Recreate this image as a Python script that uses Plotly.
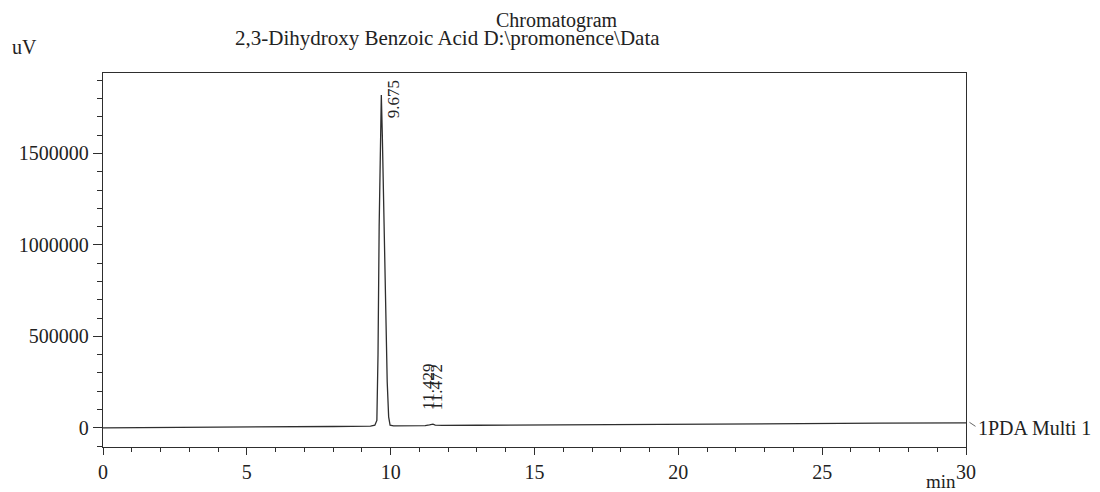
import plotly.graph_objects as go

# Chromatogram trace (time in min, signal in uV)
time_min = [0.0, 2.0, 4.0, 6.0, 8.0, 9.3, 9.45, 9.52, 9.56, 9.60, 9.64, 9.675,
            9.71, 9.76, 9.82, 9.88, 9.93, 9.98, 10.1, 10.6, 11.2, 11.35, 11.43,
            11.47, 11.55, 11.8, 13.0, 15.0, 18.0, 21.0, 24.0, 27.0, 30.0]
signal_uv = [0, 1000, 2000, 4000, 7000, 9000, 14000, 40000, 400000, 1100000, 1650000, 1820000,
             1600000, 1150000, 650000, 250000, 60000, 14000, 11000, 11000, 12000, 16000, 21000,
             20000, 15000, 13000, 14000, 16000, 19000, 21000, 23000, 25000, 27000]

peak_times = [9.675, 11.429, 11.472]
peak_heights = [1820000, 21000, 20000]
peak_labels = ["9.675", "11.429", "11.472"]

y_ticks = [0, 500000, 1000000, 1500000]
x_ticks = [0, 5, 10, 15, 20, 25, 30]

FONT = "Liberation Serif"
INK = "#222222"
LINE = "#2e2e2e"

fig = go.Figure()
fig.add_trace(go.Scatter(x=time_min, y=signal_uv, mode="lines",
                         line=dict(color=LINE, width=1.3),
                         showlegend=False, hoverinfo="x+y"))

annotations = []
xshifts = [13, -3, 3]
yshifts = [-4, 12, 12]
yanchors = ["middle", "bottom", "bottom"]
for t, h, lab, xs, ys, ya in zip(peak_times, peak_heights, peak_labels, xshifts, yshifts, yanchors):
    annotations.append(dict(x=t, y=h, xref="x", yref="y", text=lab, showarrow=False,
                            textangle=-90, xanchor="center", yanchor=ya,
                            xshift=xs, yshift=ys,
                            font=dict(family=FONT, size=17, color=INK)))

annotations += [
    dict(x=0.526, y=1.141, xref="paper", yref="paper", text="Chromatogram", showarrow=False,
         xanchor="center", yanchor="middle", font=dict(family=FONT, size=20, color=INK)),
    dict(x=0.399, y=1.094, xref="paper", yref="paper",
         text="2,3-Dihydroxy Benzoic Acid D:\\promonence\\Data", showarrow=False,
         xanchor="center", yanchor="middle", font=dict(family=FONT, size=21, color=INK)),
    dict(x=-0.108, y=1.0695, xref="paper", yref="paper", text="uV", showarrow=False,
         xanchor="left", yanchor="middle", font=dict(family=FONT, size=20, color=INK)),
    dict(x=0.971, y=-0.093, xref="paper", yref="paper", text="min", showarrow=False,
         xanchor="center", yanchor="middle", font=dict(family=FONT, size=19, color=INK)),
    dict(x=1.0, y=0, xref="paper", yref="y", text="1PDA Multi 1", showarrow=False,
         xanchor="left", yanchor="middle", xshift=10, font=dict(family=FONT, size=20, color=INK)),
]

fig.update_layout(
    width=1100, height=492,
    margin=dict(l=95, r=142, t=65, b=53),
    paper_bgcolor="white", plot_bgcolor="white",
    annotations=annotations,
    shapes=[dict(type="line", xref="paper", yref="y", x0=1.004, x1=1.011,
                 y0=30000, y1=8000, line=dict(color="#666666", width=1))],
    font=dict(family=FONT, size=20, color=INK),
)

fig.update_xaxes(range=[0, 30], tickvals=x_ticks, ticks="outside", ticklen=7,
                 tickwidth=1.3, tickcolor=LINE, showline=True, linecolor=LINE,
                 linewidth=1.3, mirror=True, showgrid=False, zeroline=False,
                 tickfont=dict(family=FONT, size=20, color=INK),
                 minor=dict(dtick=1, ticks="outside", ticklen=4, tickcolor=LINE,
                            tickwidth=1, showgrid=False))
fig.update_yaxes(range=[-105000, 1940000], tickvals=y_ticks, tickformat="d",
                 ticks="outside", ticklen=9, tickwidth=1.3, tickcolor=LINE,
                 showline=True, linecolor=LINE, linewidth=1.3, mirror=True,
                 showgrid=False, zeroline=False,
                 tickfont=dict(family=FONT, size=20, color=INK),
                 minor=dict(dtick=100000, ticks="outside", ticklen=5, tickcolor=LINE,
                            tickwidth=1, showgrid=False))

fig.write_html("out.html")
